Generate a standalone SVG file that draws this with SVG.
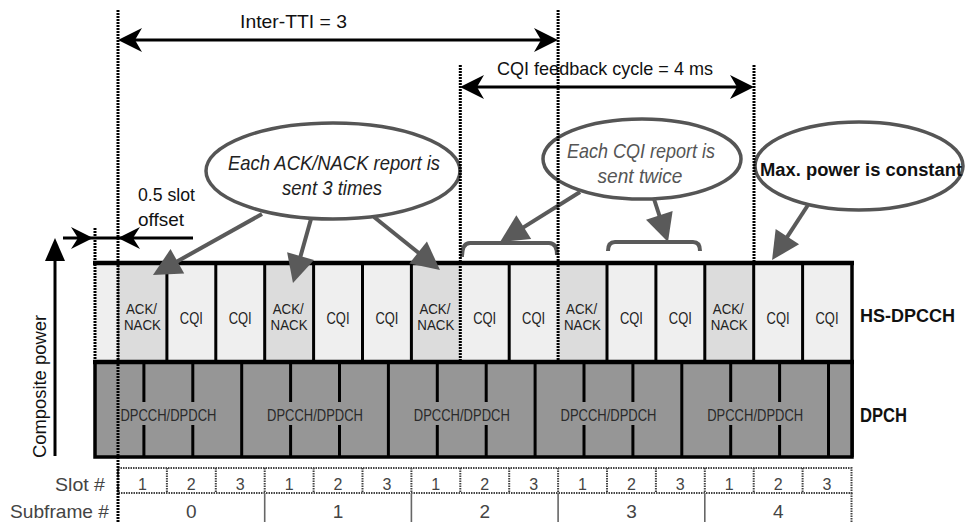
<svg xmlns="http://www.w3.org/2000/svg" width="965" height="522" viewBox="0 0 965 522">
<style>
text { font-family: "Liberation Sans Narrow", "Liberation Sans", Arial, sans-serif; }
.lbl { font-size: 19px; fill: #111; }
.ital { font-style: italic; font-size: 21px; fill: #222; }
.bold { font-weight: bold; fill: #111; }
.cell { font-size: 14.5px; fill: #222; text-anchor: middle; }
.cqi { font-size: 16px; fill: #222; text-anchor: middle; }
.dp { font-size: 16.5px; fill: #2a2a2a; text-anchor: middle; }
.axis { fill: #444; }
.num { font-size: 16px; fill: #444; text-anchor: middle; }
.sub { font-size: 19px; fill: #444; text-anchor: middle; }
.ack { fill: #dcdcdc; }
.cq { fill: #efefef; }
.sep { stroke: #000; stroke-width: 3; fill: none; }
.dot { stroke: #000; stroke-width: 3; stroke-dasharray: 2 1; fill: none; }
.adot { stroke: #444; stroke-width: 2; stroke-dasharray: 1.5 1; fill: none; }
.call { stroke: #5a5a5a; stroke-width: 4; fill: none; }
.ell { fill: #fff; stroke: #555; stroke-width: 3.5; }
.dim { stroke: #000; stroke-width: 3; fill: none; }
</style>
<defs>
<marker id="barb" viewBox="-18 -13 28 26" refX="0" refY="0" markerWidth="28" markerHeight="26" markerUnits="userSpaceOnUse" orient="auto-start-reverse">
<path d="M8,0 L-16,-12 L-9,0 L-16,12 Z" fill="#000"/>
</marker>
<marker id="tri" viewBox="-10 -15 32 30" refX="0" refY="0" markerWidth="32" markerHeight="30" markerUnits="userSpaceOnUse" orient="auto">
<path d="M20,0 L-8,-14 L-8,14 Z" fill="#5a5a5a"/>
</marker>
</defs>
<rect width="965" height="522" fill="#fff"/>

<g id="hs-dpcch">
<rect class="cq" x="95" y="263" width="23" height="99"/>
<rect class="ack" x="118" y="263" width="48.9" height="99"/>
<rect class="cq" x="166.9" y="263" width="97.8" height="99"/>
<rect class="ack" x="264.7" y="263" width="48.9" height="99"/>
<rect class="cq" x="313.6" y="263" width="97.8" height="99"/>
<rect class="ack" x="411.4" y="263" width="48.9" height="99"/>
<rect class="cq" x="460.3" y="263" width="97.8" height="99"/>
<rect class="ack" x="558.1" y="263" width="48.9" height="99"/>
<rect class="cq" x="607" y="263" width="97.8" height="99"/>
<rect class="ack" x="704.8" y="263" width="48.9" height="99"/>
<rect class="cq" x="753.7" y="263" width="97.8" height="99"/>
<line x1="118.5" y1="263" x2="118.5" y2="362" stroke="#888" stroke-width="1.5"/>
<path class="sep" d="M166.9,263V362 M215.8,263V362 M264.7,263V362 M313.6,263V362 M362.5,263V362 M411.4,263V362 M509.2,263V362 M607,263V362 M655.9,263V362 M704.8,263V362 M753.7,263V362 M802.6,263V362"/>
<line x1="93" y1="263" x2="854" y2="263" stroke="#000" stroke-width="4.5"/>
<line x1="852" y1="263" x2="852" y2="457" stroke="#000" stroke-width="3.5"/>
<g>
<text class="cell" x="141.5" y="314" textLength="31" lengthAdjust="spacingAndGlyphs">ACK/</text>
<text class="cell" x="142.4" y="330" textLength="37" lengthAdjust="spacingAndGlyphs">NACK</text>
<text class="cell" x="288.2" y="314" textLength="31" lengthAdjust="spacingAndGlyphs">ACK/</text>
<text class="cell" x="289.1" y="330" textLength="37" lengthAdjust="spacingAndGlyphs">NACK</text>
<text class="cell" x="434.9" y="314" textLength="31" lengthAdjust="spacingAndGlyphs">ACK/</text>
<text class="cell" x="435.8" y="330" textLength="37" lengthAdjust="spacingAndGlyphs">NACK</text>
<text class="cell" x="581.6" y="314" textLength="31" lengthAdjust="spacingAndGlyphs">ACK/</text>
<text class="cell" x="582.5" y="330" textLength="37" lengthAdjust="spacingAndGlyphs">NACK</text>
<text class="cell" x="728.3" y="314" textLength="31" lengthAdjust="spacingAndGlyphs">ACK/</text>
<text class="cell" x="729.2" y="330" textLength="37" lengthAdjust="spacingAndGlyphs">NACK</text>
<text class="cqi" x="191.3" y="324" textLength="23" lengthAdjust="spacingAndGlyphs">CQI</text>
<text class="cqi" x="240.2" y="324" textLength="23" lengthAdjust="spacingAndGlyphs">CQI</text>
<text class="cqi" x="338" y="324" textLength="23" lengthAdjust="spacingAndGlyphs">CQI</text>
<text class="cqi" x="386.9" y="324" textLength="23" lengthAdjust="spacingAndGlyphs">CQI</text>
<text class="cqi" x="484.7" y="324" textLength="23" lengthAdjust="spacingAndGlyphs">CQI</text>
<text class="cqi" x="533.6" y="324" textLength="23" lengthAdjust="spacingAndGlyphs">CQI</text>
<text class="cqi" x="631.4" y="324" textLength="23" lengthAdjust="spacingAndGlyphs">CQI</text>
<text class="cqi" x="680.3" y="324" textLength="23" lengthAdjust="spacingAndGlyphs">CQI</text>
<text class="cqi" x="778.1" y="324" textLength="23" lengthAdjust="spacingAndGlyphs">CQI</text>
<text class="cqi" x="827" y="324" textLength="23" lengthAdjust="spacingAndGlyphs">CQI</text>
</g>
<text class="bold" x="860" y="322" font-size="19" textLength="95" lengthAdjust="spacingAndGlyphs">HS-DPCCH</text>
</g>

<g id="dpch">
<rect x="95" y="362" width="757" height="95" fill="#969696" stroke="#000" stroke-width="3.5"/>
<line x1="93" y1="362" x2="854" y2="362" stroke="#000" stroke-width="4.5"/>
<path class="sep" d="M241.7,362V457 M388.4,362V457 M535.1,362V457 M681.8,362V457 M828.5,362V457"/>
<path class="sep" d="M143.9,362V402 M143.9,425V457 M192.8,362V402 M192.8,425V457 M290.6,362V402 M290.6,425V457 M339.5,362V402 M339.5,425V457 M437.3,362V402 M437.3,425V457 M486.2,362V402 M486.2,425V457 M584,362V402 M584,425V457 M632.9,362V402 M632.9,425V457 M730.7,362V402 M730.7,425V457 M779.6,362V402 M779.6,425V457"/>
<text class="dp" x="168.4" y="421" textLength="96" lengthAdjust="spacingAndGlyphs">DPCCH/DPDCH</text>
<text class="dp" x="315" y="421" textLength="96" lengthAdjust="spacingAndGlyphs">DPCCH/DPDCH</text>
<text class="dp" x="461.8" y="421" textLength="96" lengthAdjust="spacingAndGlyphs">DPCCH/DPDCH</text>
<text class="dp" x="608.5" y="421" textLength="96" lengthAdjust="spacingAndGlyphs">DPCCH/DPDCH</text>
<text class="dp" x="755.2" y="421" textLength="96" lengthAdjust="spacingAndGlyphs">DPCCH/DPDCH</text>
<text class="bold" x="860" y="422" font-size="20" textLength="47" lengthAdjust="spacingAndGlyphs">DPCH</text>
</g>

<g id="slot-axis">
<rect class="adot" x="118" y="468" width="733.5" height="25"/>
<path class="adot" d="M166.9,468V493 M215.8,468V493 M264.7,468V493 M313.6,468V493 M362.5,468V493 M411.4,468V493 M460.3,468V493 M509.2,468V493 M558.1,468V493 M607,468V493 M655.9,468V493 M704.8,468V493 M753.7,468V493 M802.6,468V493 M851.5,493V522"/>
<path d="M264.7,493V522 M411.4,493V522 M558.1,493V522 M704.8,493V522" stroke="#666" stroke-width="1.6"/>
<text class="num" x="142.4" y="490">1</text>
<text class="num" x="191.3" y="490">2</text>
<text class="num" x="240.2" y="490">3</text>
<text class="num" x="289.1" y="490">1</text>
<text class="num" x="338" y="490">2</text>
<text class="num" x="386.9" y="490">3</text>
<text class="num" x="435.8" y="490">1</text>
<text class="num" x="484.7" y="490">2</text>
<text class="num" x="533.6" y="490">3</text>
<text class="num" x="582.5" y="490">1</text>
<text class="num" x="631.4" y="490">2</text>
<text class="num" x="680.3" y="490">3</text>
<text class="num" x="729.2" y="490">1</text>
<text class="num" x="778.1" y="490">2</text>
<text class="num" x="827" y="490">3</text>
<text class="sub" x="191.4" y="518">0</text>
<text class="sub" x="338.1" y="518">1</text>
<text class="sub" x="484.8" y="518">2</text>
<text class="sub" x="631.5" y="518">3</text>
<text class="sub" x="778.2" y="518">4</text>
<text class="axis" x="105" y="491" font-size="19" text-anchor="end" textLength="50" lengthAdjust="spacingAndGlyphs">Slot #</text>
<text class="axis" x="109" y="518" font-size="19" text-anchor="end" textLength="99" lengthAdjust="spacingAndGlyphs">Subframe #</text>
</g>

<g id="power-axis">
<line x1="55" y1="456" x2="55" y2="256" stroke="#000" stroke-width="3"/>
<path d="M55,238 L45,261 L65,261 Z" fill="#000"/>
<text class="lbl" transform="translate(46,458) rotate(-90)" font-size="20" textLength="143" lengthAdjust="spacingAndGlyphs">Composite power</text>
</g>

<g id="callout-ack">
<ellipse class="ell" cx="333" cy="171" rx="127" ry="48" stroke="#4d4d4d"/>
<text class="ital" x="334" y="170" text-anchor="middle" textLength="212" lengthAdjust="spacingAndGlyphs">Each ACK/NACK report is</text>
<text class="ital" x="332" y="195" text-anchor="middle" textLength="100" lengthAdjust="spacingAndGlyphs">sent 3 times</text>
</g>

<g id="callout-cqi">
<ellipse class="ell" cx="642" cy="159" rx="99" ry="40" stroke="#666"/>
<text class="ital" x="641" y="158" text-anchor="middle" font-size="20" style="fill:#555" textLength="148" lengthAdjust="spacingAndGlyphs">Each CQI report is</text>
<text class="ital" x="640" y="183" text-anchor="middle" font-size="20" style="fill:#555" textLength="85" lengthAdjust="spacingAndGlyphs">sent twice</text>
</g>

<g id="callout-power">
<ellipse class="ell" cx="859" cy="166" rx="104" ry="44" stroke="#606060"/>
<text class="bold" x="760" y="176" font-size="18" textLength="202" lengthAdjust="spacingAndGlyphs">Max. power is constant</text>
</g>

<g id="brackets">
<path class="call" stroke-width="3" d="M462,257 Q462,243 470,243 L549,243 Q557,243 557,255"/>
<path class="call" stroke-width="3" d="M608,251 Q608,242 615,242 L693,242 Q700,242 700,251"/>
</g>

<g id="labels">
<text class="lbl" x="240" y="28" textLength="107" lengthAdjust="spacingAndGlyphs">Inter-TTI = 3</text>
<text class="lbl" x="497" y="75" textLength="216" lengthAdjust="spacingAndGlyphs">CQI feedback cycle = 4 ms</text>
<text class="lbl" x="138" y="201" textLength="57" lengthAdjust="spacingAndGlyphs">0.5 slot</text>
<text class="lbl" x="138" y="226" textLength="46" lengthAdjust="spacingAndGlyphs">offset</text>
</g>

<g id="connectors">
<path class="call" marker-end="url(#tri)" d="M262,214 L170.4,265.2"/>
<path class="call" marker-end="url(#tri)" d="M311,219 L298.4,263.8"/>
<path class="call" marker-end="url(#tri)" d="M374,217 L424.4,257.5"/>
<path class="call" marker-end="url(#tri)" d="M580,192 L517,231.4"/>
<path class="call" marker-end="url(#tri)" d="M654,199 L661.8,223"/>
<path class="call" marker-end="url(#tri)" d="M808,205 L783,243.3"/>
<path class="dim" marker-start="url(#barb)" marker-end="url(#barb)" d="M126,40 L550,40"/>
<path class="dim" marker-start="url(#barb)" marker-end="url(#barb)" d="M468,87 L746,87"/>
<line class="dim" x1="63" y1="238" x2="193" y2="238"/>
<path d="M93,238 L71,227 L78,238 L71,249 Z" fill="#000"/>
<path d="M118,238 L140,227 L133,238 L140,249 Z" fill="#000"/>
</g>

<g id="guides">
<path class="dot" d="M118,10V522 M558.1,10V362 M460.3,65V362 M754,65V263 M95,228V362"/>
</g>
</svg>
